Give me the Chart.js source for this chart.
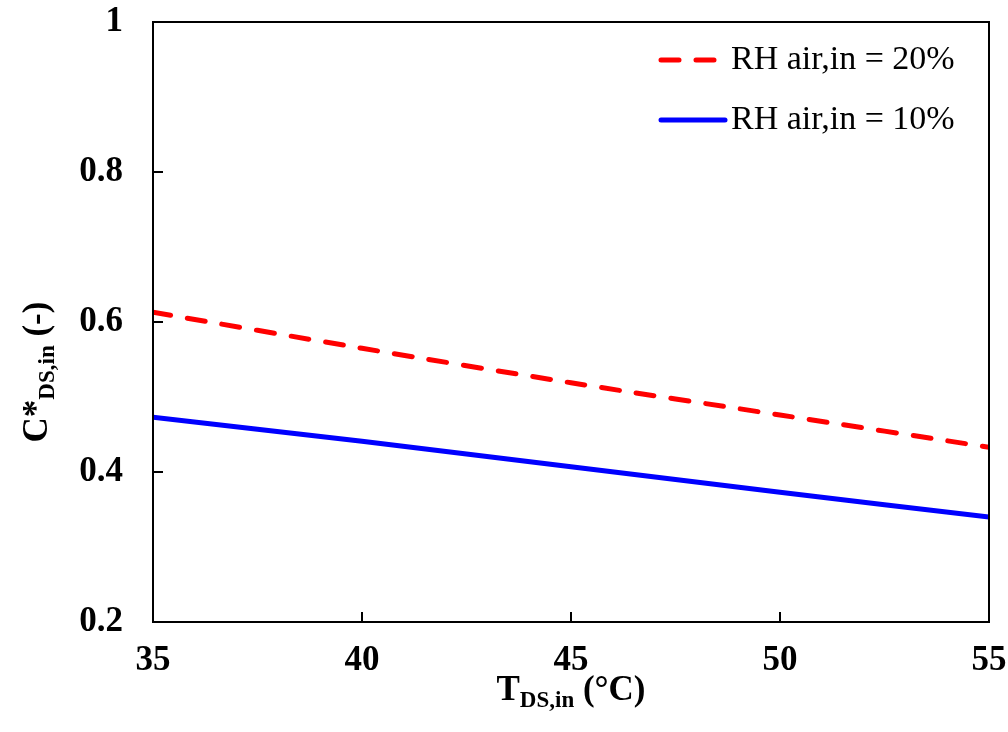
<!DOCTYPE html>
<html>
<head>
<meta charset="utf-8">
<script src="https://cdn.jsdelivr.net/npm/chart.js@4/dist/chart.umd.min.js"></script>
<style>
  html, body { margin: 0; padding: 0; background: #fff; }
  #wrap { width: 1008px; height: 732px; }
</style>
</head>
<body>
<div id="wrap"><canvas id="chart" width="1008" height="732"></canvas></div>
<script>
// values
var t_ds_in = [35, 40, 45, 50, 55];
var rh_20 = [0.613, 0.565, 0.519, 0.476, 0.433];
var rh_10 = [0.473, 0.441, 0.407, 0.373, 0.340];
var series_labels = ['RH air,in = 20%', 'RH air,in = 10%'];
var x_ticks = [35, 40, 45, 50, 55];
var y_ticks = [0.2, 0.4, 0.6, 0.8, 1];

var serif = '"Liberation Serif", "Times New Roman", serif';

function to_points(xs, ys)
{
  var pts = [];
  for (var i = 0; i < xs.length; i++) pts.push({x: xs[i], y: ys[i]});
  return pts;
}

// frame, inward ticks, axis titles with subscripts, legend
var decor = {
  id: 'decor',
  afterDraw: function (chart) {
    var ctx = chart.ctx;
    var a = chart.chartArea;
    var xs = chart.scales.x, ys = chart.scales.y;
    ctx.save();
    ctx.strokeStyle = '#000';
    ctx.lineWidth = 2;
    ctx.strokeRect(a.left, a.top, a.right - a.left, a.bottom - a.top);
    ctx.beginPath();
    x_ticks.forEach(function (v) {
      var px = Math.round(xs.getPixelForValue(v));
      ctx.moveTo(px, a.bottom); ctx.lineTo(px, a.bottom - 10);
    });
    y_ticks.forEach(function (v) {
      var py = Math.round(ys.getPixelForValue(v));
      ctx.moveTo(a.left, py); ctx.lineTo(a.left + 10, py);
    });
    ctx.stroke();

    // x title: T_DS,in (°C)
    ctx.fillStyle = '#000';
    ctx.textBaseline = 'alphabetic';
    ctx.textAlign = 'left';
    var big = 'bold 35px ' + serif, small = 'bold 23px ' + serif;
    ctx.font = big; var w1 = ctx.measureText('T').width;
    ctx.font = small; var w2 = ctx.measureText('DS,in').width;
    ctx.font = big; var w3 = ctx.measureText(' (°C)').width;
    var x0 = (a.left + a.right) / 2 - (w1 + w2 + w3) / 2;
    var base = 700;
    ctx.font = big; ctx.fillText('T', x0, base);
    ctx.font = small; ctx.fillText('DS,in', x0 + w1, base + 7);
    ctx.font = big; ctx.fillText(' (°C)', x0 + w1 + w2, base);

    // y title: C*_DS,in (-)
    ctx.save();
    ctx.translate(47, 372);
    ctx.rotate(-Math.PI / 2);
    ctx.font = big; var v1 = ctx.measureText('C*').width;
    ctx.font = small; var v2 = ctx.measureText('DS,in').width;
    ctx.font = big; var v3 = ctx.measureText(' (-)').width;
    var y0 = -(v1 + v2 + v3) / 2;
    ctx.font = big; ctx.fillText('C*', y0, 0);
    ctx.font = small; ctx.fillText('DS,in', y0 + v1, 7);
    ctx.font = big; ctx.fillText(' (-)', y0 + v1 + v2, 0);
    ctx.restore();

    // legend
    var rows = [a.top + 38, a.top + 98];
    chart.data.datasets.forEach(function (ds, i) {
      var y = rows[i];
      ctx.save();
      ctx.strokeStyle = ds.borderColor;
      ctx.lineWidth = ds.borderWidth;
      ctx.lineCap = 'round';
      ctx.setLineDash(ds.borderDash || []);
      ctx.beginPath();
      ctx.moveTo(a.left + 508, y);
      ctx.lineTo(a.left + 572, y);
      ctx.stroke();
      ctx.restore();
      ctx.font = '34px ' + serif;
      ctx.textBaseline = 'middle';
      ctx.fillText(ds.label, a.left + 578, y);
    });
    ctx.restore();
  }
};

var chart_data = {
  type: 'line',
  data: {
    datasets: [
      {
        label: series_labels[0],
        data: to_points(t_ds_in, rh_20),
        borderColor: '#ff0000',
        borderWidth: 5,
        borderDash: [18, 17],
        borderCapStyle: 'round',
        pointRadius: 0,
        tension: 0.3,
        fill: false
      },
      {
        label: series_labels[1],
        data: to_points(t_ds_in, rh_10),
        borderColor: '#0000ff',
        borderWidth: 5,
        pointRadius: 0,
        tension: 0.3,
        fill: false
      }
    ]
  },
  options: {
    responsive: false,
    animation: false,
    layout: { padding: { top: 22, right: 19, left: 0, bottom: 0 } },
    plugins: { legend: { display: false }, tooltip: { enabled: false } },
    scales: {
      x: {
        type: 'linear',
        min: 35, max: 55,
        afterFit: function (s) { s.height = 110; s.paddingLeft = 0; s.paddingRight = 0; },
        afterBuildTicks: function (s) { s.ticks = x_ticks.map(function (v) { return {value: v}; }); },
        grid: { display: false, drawTicks: false },
        border: { display: false },
        ticks: { color: '#000', padding: 18, font: { family: serif, size: 35, weight: 'bold' } }
      },
      y: {
        min: 0.2, max: 1,
        afterFit: function (s) { s.width = 153; s.paddingTop = 0; s.paddingBottom = 0; },
        afterBuildTicks: function (s) { s.ticks = y_ticks.map(function (v) { return {value: v}; }); },
        grid: { display: false, drawTicks: false },
        border: { display: false },
        ticks: {
          color: '#000', padding: 30,
          font: { family: serif, size: 35, weight: 'bold' },
          callback: function (v) { return String(Math.round(v * 10) / 10); }
        }
      }
    }
  },
  plugins: [decor]
};

window.onload = function ()
{
  var ctx = document.getElementById('chart').getContext('2d');
  new Chart(ctx, chart_data);
};
</script>
</body>
</html>
